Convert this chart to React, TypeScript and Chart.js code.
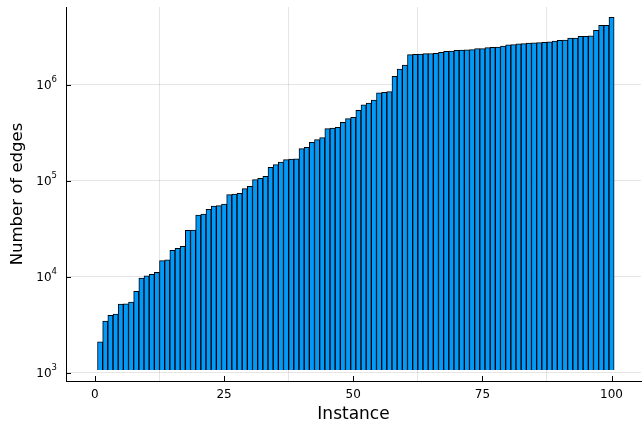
import React, { useEffect, useRef } from "react";
import { Chart, registerables } from "chart.js";

Chart.register(...registerables);

const edges = [
  2100, 3455, 3960, 4090, 5195, 5230, 5450, 7040, 9690, 10240,
  10590, 11110, 14680, 15030, 18840, 19770, 20740, 30430, 30640, 43950,
  44990, 50350, 54480, 54950, 57170, 71500, 72700, 73900, 82550, 87430,
  102400, 105900, 111100, 137900, 146800, 156600, 165500, 168300, 168900, 215400,
  222700, 251200, 267400, 280500, 348100, 354000, 360000, 405600, 442400, 457400,
  541000, 615000, 644800, 693000, 820000, 833900, 845900, 1223000, 1457000, 1603000,
  2053000, 2073000, 2080000, 2104000, 2110000, 2124000, 2175000, 2228000, 2235000, 2281000,
  2297000, 2300000, 2315000, 2371000, 2375000, 2429000, 2453000, 2470000, 2529000, 2604000,
  2610000, 2667000, 2675000, 2718000, 2722000, 2738000, 2755000, 2799000, 2845000, 2900000,
  2915000, 3049000, 3065000, 3191000, 3195000, 3230000, 3687000, 4156000, 4160000, 5036000,
];
const xTicks = [0, 25, 50, 75, 100];
const yTicks = [1e3, 1e4, 1e5, 1e6];
const yTickBase = "10";
const yTickExponents = ["3", "4", "5", "6"];

const FONT = "'DejaVu Sans', sans-serif";

const axisDecor = {
  id: "axisDecor",
  afterDraw(chart: any) {
    const { ctx, chartArea, scales } = chart;
    ctx.save();
    ctx.strokeStyle = "#000";
    ctx.lineWidth = 1;
    ctx.beginPath();
    for (const v of yTicks) {
      const y = Math.round(scales.y.getPixelForValue(v)) + 0.5;
      ctx.moveTo(chartArea.left, y);
      ctx.lineTo(chartArea.left + 5, y);
    }
    for (const v of xTicks) {
      const x = Math.round(scales.x.getPixelForValue(v)) + 0.5;
      ctx.moveTo(x, chartArea.bottom);
      ctx.lineTo(x, chartArea.bottom - 5);
    }
    ctx.stroke();
    ctx.fillStyle = "#000";
    ctx.textBaseline = "middle";
    ctx.textAlign = "left";
    const right = chartArea.left - 9;
    yTicks.forEach((v, i) => {
      const y = scales.y.getPixelForValue(v);
      ctx.font = `12px ${FONT}`;
      const w1 = ctx.measureText(yTickBase).width;
      ctx.font = `8.5px ${FONT}`;
      const w2 = ctx.measureText(yTickExponents[i]).width;
      ctx.font = `12px ${FONT}`;
      ctx.fillText(yTickBase, right - w2 - w1, y + 1);
      ctx.font = `8.5px ${FONT}`;
      ctx.fillText(yTickExponents[i], right - w2, y - 4.5);
    });
    ctx.restore();
  },
};

export default function App() {
  const ref = useRef<HTMLCanvasElement | null>(null);
  useEffect(() => {
    if (!ref.current) return;
    const chart = new Chart(ref.current, {
      type: "bar",
      data: {
        datasets: [
          {
            data: edges.map((v, i) => ({ x: i + 1, y: v })),
            backgroundColor: "#009AFA",
            borderColor: "#000000",
            borderWidth: 1,
            borderSkipped: "start",
            base: 1067,
            barPercentage: 1,
            categoryPercentage: 1,
          } as any,
        ],
      },
      options: {
        animation: false,
        responsive: false,
        layout: { padding: { top: 7, right: 1, left: 0, bottom: 0 } },
        plugins: { legend: { display: false }, tooltip: { enabled: false } },
        scales: {
          x: {
            type: "linear",
            offset: false,
            min: -5.6,
            max: 105.7,
            afterBuildTicks: (s: any) => {
              s.ticks = xTicks.map((v) => ({ value: v }));
            },
            afterFit: (s: any) => {
              s.height = 42;
              s.paddingLeft = 0;
              s.paddingRight = 0;
            },
            grid: { color: "rgba(0,0,0,0.1)", lineWidth: 1, drawTicks: false },
            border: { color: "#000", width: 1 },
            ticks: {
              padding: 7,
              color: "#000",
              font: { family: FONT, size: 12 },
              maxRotation: 0,
              callback: (v: any) => String(v),
            },
            title: {
              display: true,
              text: "Instance",
              color: "#000",
              font: { family: FONT, size: 17, lineHeight: 1 },
              padding: { top: 0, bottom: 0 },
            },
          },
          y: {
            type: "logarithmic",
            min: 820,
            max: 6.44e6,
            afterBuildTicks: (s: any) => {
              s.ticks = yTicks.map((v) => ({ value: v }));
            },
            afterFit: (s: any) => {
              s.width = 66;
              s.paddingTop = 0;
              s.paddingBottom = 0;
            },
            grid: { color: "rgba(0,0,0,0.1)", lineWidth: 1, drawTicks: false },
            border: { color: "#000", width: 1 },
            ticks: { display: false },
            title: {
              display: true,
              text: "Number of edges",
              color: "#000",
              font: { family: FONT, size: 16.5, lineHeight: 1 },
              padding: { top: 9, bottom: 0 },
            },
          },
        },
      },
      plugins: [axisDecor],
    });
    return () => chart.destroy();
  }, []);
  return (
    <canvas
      ref={ref}
      width={642}
      height={423}
      style={{ position: "absolute", left: 0, top: 0, display: "block", background: "#fff" }}
    />
  );
}
